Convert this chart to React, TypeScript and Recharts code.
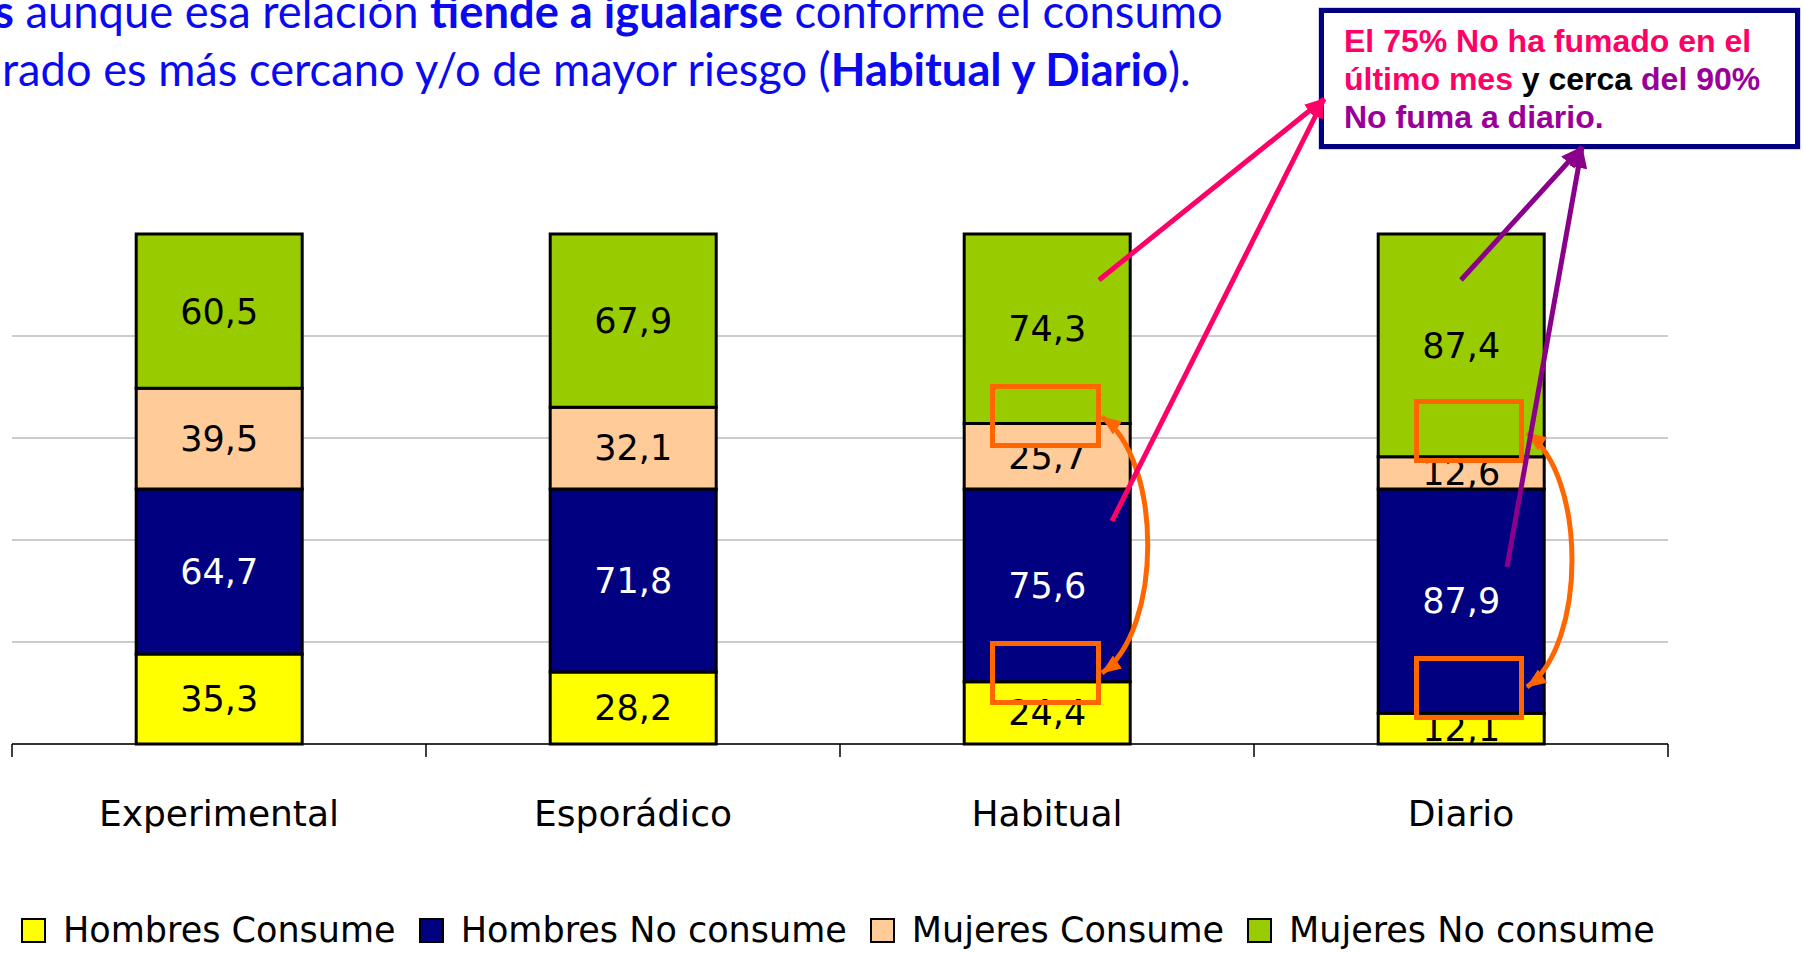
import { useLayoutEffect, useRef, useState } from 'react';
import { BarChart, Bar, XAxis, YAxis, CartesianGrid, LabelList } from 'recharts';

// values (% per consumption pattern)
const categories = ['Experimental', 'Esporádico', 'Habitual', 'Diario'];
const hombresConsume = [35.3, 28.2, 24.4, 12.1];
const hombresNoConsume = [64.7, 71.8, 75.6, 87.9];
const mujeresConsume = [39.5, 32.1, 25.7, 12.6];
const mujeresNoConsume = [60.5, 67.9, 74.3, 87.4];
const seriesNames = ['Hombres Consume', 'Hombres No consume', 'Mujeres Consume', 'Mujeres No consume'];
const gridTicks = [0, 40, 80, 120, 160];

const series = [
  { key: 'hc', name: seriesNames[0], fill: '#FFFF00', text: '#000000' },
  { key: 'hn', name: seriesNames[1], fill: '#000080', text: '#FFFFFF' },
  { key: 'mc', name: seriesNames[2], fill: '#FFCC99', text: '#000000' },
  { key: 'mn', name: seriesNames[3], fill: '#99CC00', text: '#000000' },
];

const data = categories.map((cat, i) => ({
  cat,
  hc: hombresConsume[i],
  hn: hombresNoConsume[i],
  mc: mujeresConsume[i],
  mn: mujeresNoConsume[i],
}));

const W = 1804;
const H = 953;
const BLUE = '#0a0af0';
const PINK = '#FF0066';
const PURPLE = '#8B008B';
const ORANGE = '#FF6600';

const fmt = (v: any) => String(v).replace('.', ',');

function CategoryTick(props: any) {
  const { x, y, payload, index, width } = props;
  const half = payload?.offset ?? width / categories.length / 2;
  return (
    <g>
      <line x1={x - half} x2={x - half} y1={y} y2={y + 13} stroke="#000" strokeWidth={1.5} />
      {index === categories.length - 1 && (
        <line x1={x + half} x2={x + half} y1={y} y2={y + 13} stroke="#000" strokeWidth={1.5} />
      )}
      <text x={x} y={y + 82} textAnchor="middle" fontFamily="DejaVu Sans" fontSize={36} fill="#000">
        {payload.value}
      </text>
    </g>
  );
}

// squeezes a line horizontally so it spans left..right (slide font is a narrow Calibri)
function FitText({ left, right, y, size, children }: any) {
  const ref = useRef<SVGTextElement>(null);
  const [sx, setSx] = useState(1);
  useLayoutEffect(() => {
    const el = ref.current;
    if (!el) return;
    const w = el.getComputedTextLength();
    if (w > 0) setSx((right - left) / w);
  }, [left, right]);
  return (
    <text
      ref={ref}
      transform={`translate(${left} ${y}) scale(${sx} 1)`}
      x={0}
      y={0}
      fontFamily="Lato"
      fontSize={size}
      fill={BLUE}
      style={{ whiteSpace: 'pre' }}
    >
      {children}
    </text>
  );
}

function Overlay() {
  return (
    <svg width={W} height={H} style={{ position: 'absolute', left: 0, top: 0, pointerEvents: 'none' }}>
      <defs>
        <marker id="hPink" markerUnits="userSpaceOnUse" markerWidth={20} markerHeight={16} refX={19} refY={8} orient="auto">
          <path d="M0,0 L20,8 L0,16 z" fill={PINK} />
        </marker>
        <marker id="hPurple" markerUnits="userSpaceOnUse" markerWidth={22} markerHeight={18} refX={21} refY={9} orient="auto">
          <path d="M0,0 L22,9 L0,18 z" fill={PURPLE} />
        </marker>
        <marker id="hOrange" markerUnits="userSpaceOnUse" markerWidth={20} markerHeight={16} refX={19} refY={8} orient="auto-start-reverse">
          <path d="M0,0 L20,8 L0,16 z" fill={ORANGE} />
        </marker>
      </defs>

      <FitText left={-6} right={1223} y={28} size={46}>
        <tspan fontWeight="bold">s</tspan>{' aunque esa relación '}
        <tspan fontWeight="bold">tiende a igualarse</tspan>{' conforme el consumo'}
      </FitText>
      <FitText left={2} right={1191} y={86} size={46}>
        {'rado es más cercano y/o de mayor riesgo ('}
        <tspan fontWeight="bold">Habitual y Diario</tspan>{').'}
      </FitText>

      <rect x={1319} y={8} width={481} height={141} fill="none" stroke="#a8a8d8" strokeWidth={1} />
      <rect x={1321.5} y={10.5} width={476} height={136} fill="#fff" stroke="#000080" strokeWidth={5} />
      <text x={1344} y={52} fontFamily="Liberation Sans" fontWeight="bold" fontSize={32} style={{ whiteSpace: 'pre' }}>
        <tspan fill={PINK}>El 75% No ha fumado en el</tspan>
      </text>
      <text x={1344} y={90} fontFamily="Liberation Sans" fontWeight="bold" fontSize={32} style={{ whiteSpace: 'pre' }}>
        <tspan fill={PINK}>último mes</tspan>
        <tspan fill="#000">{' y cerca'}</tspan>
        <tspan fill="#990099">{' del 90%'}</tspan>
      </text>
      <text x={1344} y={128} fontFamily="Liberation Sans" fontWeight="bold" fontSize={32} fill="#990099">
        No fuma a diario.
      </text>

      <rect x={992.5} y={386.5} width={106} height={59} fill="none" stroke={ORANGE} strokeWidth={5} />
      <rect x={992.5} y={643.5} width={106} height={59} fill="none" stroke={ORANGE} strokeWidth={5} />
      <rect x={1416.5} y={401.5} width={105} height={59} fill="none" stroke={ORANGE} strokeWidth={5} />
      <rect x={1416.5} y={658.5} width={105} height={59} fill="none" stroke={ORANGE} strokeWidth={5} />
      <path d="M1102,417 C1163,460 1163,630 1102,673" fill="none" stroke={ORANGE} strokeWidth={5}
        markerStart="url(#hOrange)" markerEnd="url(#hOrange)" />
      <path d="M1527,433 C1587,475 1587,645 1527,687" fill="none" stroke={ORANGE} strokeWidth={5}
        markerStart="url(#hOrange)" markerEnd="url(#hOrange)" />

      <line x1={1099} y1={280} x2={1324} y2={99} stroke={PINK} strokeWidth={5} markerEnd="url(#hPink)" />
      <line x1={1112} y1={521} x2={1324} y2={99} stroke={PINK} strokeWidth={5} markerEnd="url(#hPink)" />
      <line x1={1461} y1={280} x2={1582} y2={147} stroke={PURPLE} strokeWidth={5} markerEnd="url(#hPurple)" />
      <line x1={1507} y1={567} x2={1582} y2={147} stroke={PURPLE} strokeWidth={5} markerEnd="url(#hPurple)" />
    </svg>
  );
}

function LegendRow() {
  return (
    <div
      style={{
        position: 'absolute',
        left: 21,
        top: 905,
        height: 50,
        display: 'flex',
        alignItems: 'center',
        fontFamily: 'DejaVu Sans',
        fontSize: 35,
        lineHeight: 1,
        whiteSpace: 'nowrap',
      }}
    >
      {series.map((s) => (
        <div key={s.key} style={{ display: 'flex', alignItems: 'center', marginRight: 23 }}>
          <span
            style={{
              width: 25,
              height: 25,
              boxSizing: 'border-box',
              border: '2px solid #000',
              background: s.fill,
              marginRight: 17,
              display: 'inline-block',
            }}
          />
          <span>{s.name}</span>
        </div>
      ))}
    </div>
  );
}

export default function App() {
  return (
    <div style={{ position: 'absolute', left: 0, top: 0, width: W, height: H, overflow: 'hidden', background: '#fff' }}>
      <BarChart
        width={W}
        height={H}
        data={data}
        margin={{ top: 234, right: 136, bottom: 109, left: 12 }}
        barCategoryGap="30%"
      >
        <CartesianGrid vertical={false} stroke="#cccccc" strokeWidth={2} horizontalValues={gridTicks} />
        <XAxis
          dataKey="cat"
          height={100}
          interval={0}
          axisLine={{ stroke: '#000', strokeWidth: 1.5 }}
          tickLine={false}
          tickSize={0}
          tickMargin={0}
          tick={<CategoryTick />}
        />
        <YAxis hide type="number" domain={[0, 200]} ticks={gridTicks} />
        {series.map((s) => (
          <Bar
            key={s.key}
            dataKey={s.key}
            name={s.name}
            stackId="a"
            fill={s.fill}
            stroke="#000"
            strokeWidth={3}
            isAnimationActive={false}
          >
            <LabelList
              dataKey={s.key}
              position="center"
              formatter={fmt}
              fill={s.text}
              stroke="none"
              fontFamily="DejaVu Sans"
              fontSize={35}
            />
          </Bar>
        ))}
      </BarChart>
      <Overlay />
      <LegendRow />
    </div>
  );
}
